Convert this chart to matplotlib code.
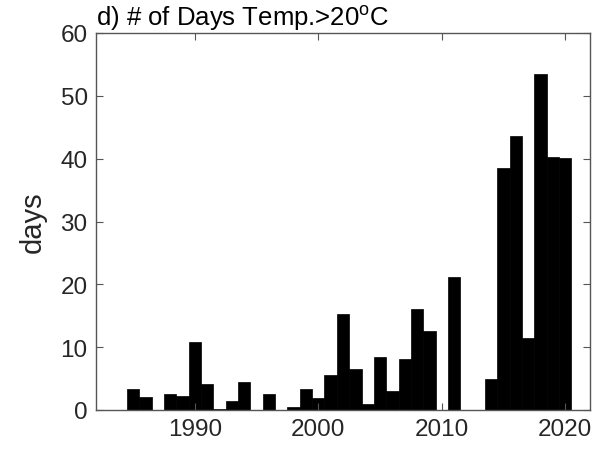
import matplotlib
matplotlib.use("Agg")
import matplotlib.pyplot as plt

years = list(range(1985, 2021))
days = [3.3, 2.1, 0.0, 2.5, 2.3, 10.8, 4.2, 0.2, 1.4, 4.4,
        0.0, 2.5, 0.0, 0.4, 3.3, 1.9, 5.6, 15.3, 6.5, 0.9,
        8.5, 3.0, 8.1, 16.0, 12.5, 0.0, 21.1, 0.0, 0.0, 5.0,
        38.5, 43.6, 11.4, 53.5, 40.3, 40.1]
xticks = [1990, 2000, 2010, 2020]
yticks = [0, 10, 20, 30, 40, 50, 60]
title = r'd) # of Days Temp.>20$^{\mathrm{o}}$C'
ylabel = 'days'

plt.rcParams['font.family'] = ['Liberation Sans', 'DejaVu Sans']
plt.rcParams['mathtext.fontset'] = 'custom'
plt.rcParams['mathtext.rm'] = 'Liberation Sans'
plt.rcParams['mathtext.it'] = 'Liberation Sans:italic'

fig = plt.figure(figsize=(5.98, 4.52), dpi=100)
ax = fig.add_axes([96/598, 41/452, 494/598, 377/452])

ax.bar(years, days, width=1.0, color='black', edgecolor='black', linewidth=0.5)

ax.set_xlim(1982, 2022)
ax.set_ylim(0, 60)
ax.set_xticks(xticks)
ax.set_yticks(yticks)

spine_col = '#555555'
for s in ax.spines.values():
    s.set_color(spine_col)
    s.set_linewidth(1.0)
ax.tick_params(direction='in', length=5, width=0.8, color=spine_col,
               top=True, right=True, labelsize=17.5, labelcolor='#262626', pad=6)

ax.set_ylabel(ylabel, fontsize=21, color='#262626', labelpad=10)
ax.text(0.0, 1.003, title, transform=ax.transAxes, fontsize=18.5,
        ha='left', va='bottom', color='black')

fig.savefig('out.png', dpi=100, facecolor='white')
